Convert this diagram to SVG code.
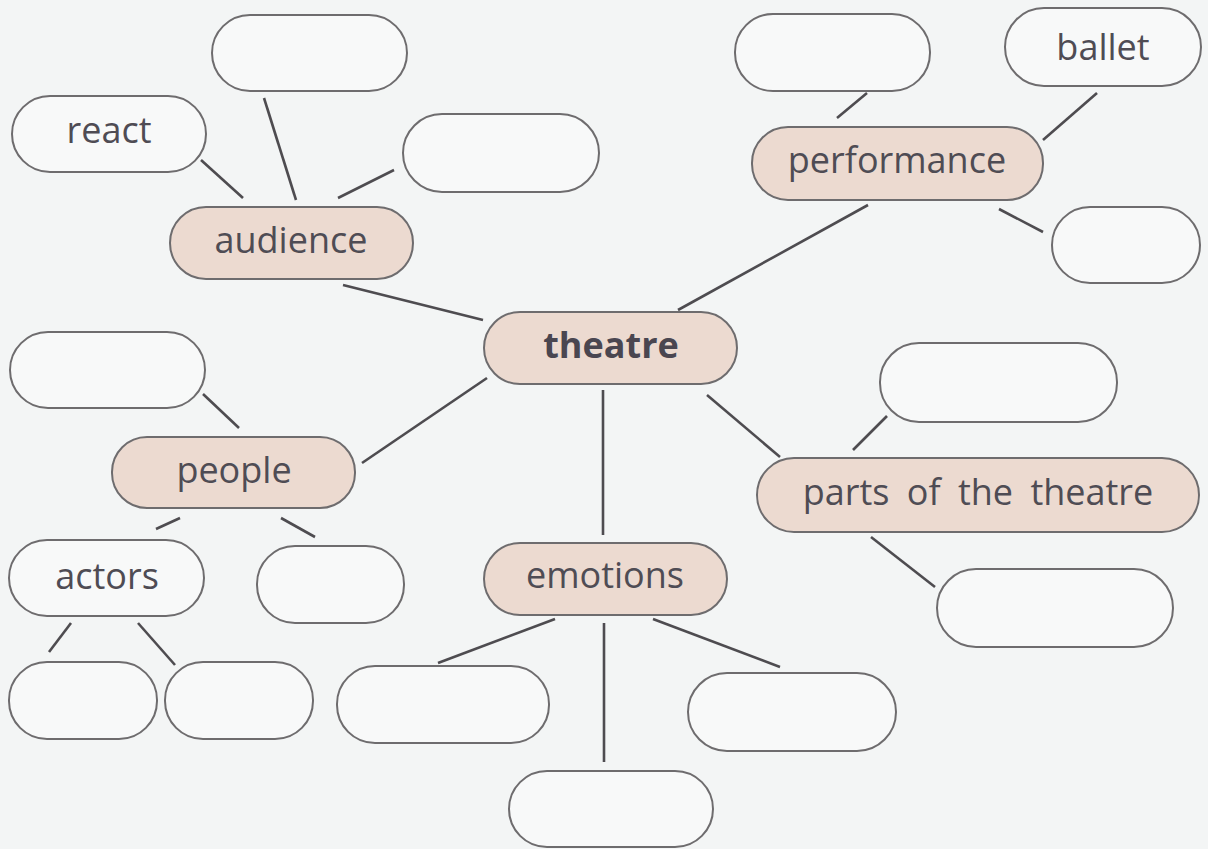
<svg xmlns="http://www.w3.org/2000/svg" width="1208" height="849" viewBox="0 0 1208 849">
<style>
.bg{fill:#f3f5f5}
.pill{stroke:#6e6c6e;stroke-width:2}
.blank{fill:#f8f9f9}
.key{fill:#ecdad0}
.lbl{font-family:"Open Sans","Noto Sans","Liberation Sans",sans-serif;font-size:36px;fill:#4f4c54;text-anchor:middle}
.bold{font-weight:bold;fill:#4a4650}
.conn line{stroke:#4e4c50;stroke-width:2.6;stroke-linecap:butt}
</style>
<rect class="bg" x="0" y="0" width="1208" height="849"/>
<g id="connectors" class="conn">
<line x1="201" y1="160" x2="243" y2="198"/>
<line x1="264" y1="98" x2="296" y2="200"/>
<line x1="394" y1="170" x2="338" y2="198"/>
<line x1="343" y1="285" x2="483" y2="320"/>
<line x1="487" y1="378" x2="362" y2="463"/>
<line x1="603" y1="390" x2="603" y2="535"/>
<line x1="678" y1="310" x2="868" y2="205"/>
<line x1="707" y1="395" x2="780" y2="457"/>
<line x1="867" y1="93" x2="837" y2="118"/>
<line x1="1097" y1="93" x2="1043" y2="140"/>
<line x1="999" y1="209" x2="1043" y2="232"/>
<line x1="853" y1="450" x2="887" y2="416"/>
<line x1="871" y1="537" x2="935" y2="587"/>
<line x1="203" y1="394" x2="239" y2="428"/>
<line x1="180" y1="518" x2="156" y2="529"/>
<line x1="281" y1="518" x2="315" y2="537"/>
<line x1="71" y1="623" x2="49" y2="652"/>
<line x1="138" y1="623" x2="175" y2="665"/>
<line x1="555" y1="619" x2="438" y2="663"/>
<line x1="604" y1="623" x2="604" y2="762"/>
<line x1="653" y1="619" x2="780" y2="667"/>
</g>
<g id="theatre"><rect class="pill key" x="484" y="312" width="253" height="72" rx="36"/><text class="lbl bold" x="611" y="358">theatre</text></g>
<g id="audience"><rect class="pill key" x="170" y="207" width="243" height="72" rx="36"/><text class="lbl" x="291" y="253">audience</text></g>
<g id="react"><rect class="pill blank" x="12" y="96" width="194" height="76" rx="38"/><text class="lbl" x="109" y="143">react</text></g>
<g id="audience-blank-1"><rect class="pill blank" x="212" y="15" width="195" height="76" rx="38"/></g>
<g id="audience-blank-2"><rect class="pill blank" x="403" y="114" width="196" height="78" rx="39"/></g>
<g id="performance"><rect class="pill key" x="752" y="127" width="291" height="73" rx="36"/><text class="lbl" x="897" y="173">performance</text></g>
<g id="performance-blank-1"><rect class="pill blank" x="735" y="14" width="195" height="77" rx="38"/></g>
<g id="ballet"><rect class="pill blank" x="1005" y="8" width="196" height="78" rx="39"/><text class="lbl" x="1103" y="60">ballet</text></g>
<g id="performance-blank-2"><rect class="pill blank" x="1052" y="207" width="148" height="76" rx="38"/></g>
<g id="parts"><rect class="pill key" x="757" y="458" width="442" height="74" rx="37"/><text class="lbl" x="978" y="505" word-spacing="8">parts of the theatre</text></g>
<g id="parts-blank-1"><rect class="pill blank" x="880" y="343" width="237" height="79" rx="39"/></g>
<g id="parts-blank-2"><rect class="pill blank" x="937" y="569" width="236" height="78" rx="39"/></g>
<g id="people"><rect class="pill key" x="112" y="437" width="243" height="71" rx="35"/><text class="lbl" x="234" y="483">people</text></g>
<g id="people-blank-1"><rect class="pill blank" x="10" y="332" width="195" height="76" rx="38"/></g>
<g id="actors"><rect class="pill blank" x="9" y="540" width="195" height="76" rx="38"/><text class="lbl" x="107" y="589">actors</text></g>
<g id="people-blank-2"><rect class="pill blank" x="257" y="546" width="147" height="77" rx="38"/></g>
<g id="actors-blank-1"><rect class="pill blank" x="9" y="662" width="148" height="77" rx="38"/></g>
<g id="actors-blank-2"><rect class="pill blank" x="165" y="662" width="148" height="77" rx="38"/></g>
<g id="emotions"><rect class="pill key" x="484" y="543" width="243" height="72" rx="36"/><text class="lbl" x="605" y="588">emotions</text></g>
<g id="emotions-blank-1"><rect class="pill blank" x="337" y="666" width="212" height="77" rx="38"/></g>
<g id="emotions-blank-2"><rect class="pill blank" x="509" y="771" width="204" height="76" rx="38"/></g>
<g id="emotions-blank-3"><rect class="pill blank" x="688" y="673" width="208" height="78" rx="39"/></g>
</svg>
